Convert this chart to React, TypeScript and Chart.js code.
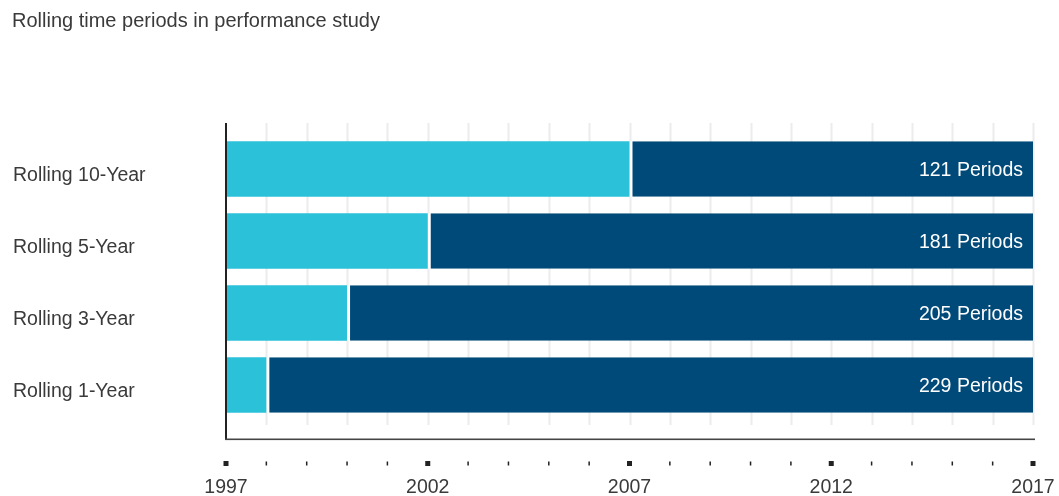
import React, { useEffect, useRef } from "react";
import { Chart, registerables } from "chart.js";

Chart.register(...registerables);

const title = "Rolling time periods in performance study";
const categories = ["Rolling 10-Year", "Rolling 5-Year", "Rolling 3-Year", "Rolling 1-Year"];
const startYear = 1997;
const endYear = 2017;
const firstPeriodEnd = [2007, 2002, 2000, 1998];
const periodCounts = [121, 181, 205, 229];
const majorTickYears = [1997, 2002, 2007, 2012, 2017];

const FONT = '"Liberation Sans", Arial, Helvetica, sans-serif';
const LIGHT = "#2bc1d9";
const DARK = "#004a7a";
const TEXT = "#3a3a3a";

const decorPlugin = {
  id: "decor",
  beforeDatasetsDraw(chart: any) {
    const { ctx, chartArea, scales } = chart;
    const x = scales.x;
    ctx.save();
    ctx.strokeStyle = "#ececec";
    ctx.lineWidth = 2;
    for (let yr = startYear + 1; yr <= endYear; yr++) {
      const px = Math.round(x.getPixelForValue(yr)) + 0.5;
      ctx.beginPath();
      ctx.moveTo(px, chartArea.top - 10);
      ctx.lineTo(px, chartArea.bottom + 4);
      ctx.stroke();
    }
    ctx.restore();
  },
  afterDatasetsDraw(chart: any) {
    const { ctx, chartArea, scales } = chart;
    const x = scales.x;
    ctx.save();
    // title
    ctx.fillStyle = TEXT;
    ctx.font = `20px ${FONT}`;
    ctx.textAlign = "left";
    ctx.textBaseline = "alphabetic";
    ctx.fillText(title, 12, 27);

    // axis lines
    const left = x.getPixelForValue(startYear);
    const right = x.getPixelForValue(endYear);
    ctx.fillStyle = "#222222";
    ctx.fillRect(left - 1, chartArea.top - 10, 2, chartArea.bottom + 19 - (chartArea.top - 10));
    ctx.fillStyle = "#444444";
    ctx.fillRect(left - 1, chartArea.bottom + 17.5, right + 2 - (left - 1), 1.6);

    // tick marks
    ctx.fillStyle = "#222222";
    for (let yr = startYear; yr <= endYear; yr++) {
      const px = x.getPixelForValue(yr);
      if (majorTickYears.includes(yr)) {
        ctx.fillRect(px - 2.5, chartArea.bottom + 40, 5, 5);
      } else {
        ctx.fillRect(px - 0.75, chartArea.bottom + 40.5, 1.5, 4);
      }
    }

    // bar labels
    const meta = chart.getDatasetMeta(1);
    ctx.fillStyle = "#ffffff";
    ctx.font = `19.5px ${FONT}`;
    ctx.textAlign = "right";
    ctx.textBaseline = "middle";
    meta.data.forEach((bar: any, i: number) => {
      ctx.fillText(`${periodCounts[i]} Periods`, bar.x - 10, bar.y + 1.5);
    });
    ctx.restore();
  },
};

export default function App() {
  const ref = useRef<HTMLCanvasElement | null>(null);

  useEffect(() => {
    if (!ref.current) return;
    const chart = new Chart(ref.current, {
      type: "bar",
      data: {
        labels: categories,
        datasets: [
          {
            label: "First period",
            data: firstPeriodEnd.map((e) => [startYear, e]) as any,
            backgroundColor: LIGHT,
            borderWidth: 0,
            grouped: false,
            barPercentage: 0.773,
            categoryPercentage: 1,
          } as any,
          {
            label: "Remaining",
            data: firstPeriodEnd.map((e) => [e, endYear]) as any,
            backgroundColor: DARK,
            borderColor: "#ffffff",
            borderWidth: { left: 3, right: 0, top: 0, bottom: 0 },
            borderSkipped: false,
            grouped: false,
            barPercentage: 0.773,
            categoryPercentage: 1,
          } as any,
        ],
      },
      plugins: [decorPlugin],
      options: {
        indexAxis: "y",
        responsive: false,
        animation: false,
        devicePixelRatio: 1,
        layout: { padding: { left: 13, right: 26, top: 133, bottom: 0 } },
        plugins: {
          legend: { display: false },
          tooltip: { enabled: false },
          title: { display: false },
        },
        scales: {
          x: {
            type: "linear",
            min: startYear,
            max: endYear,
            grid: { display: false, drawTicks: false },
            border: { display: false },
            afterFit: (scale: any) => {
              scale.height = 75;
              scale.paddingLeft = 0;
              scale.paddingRight = 0;
            },
            ticks: {
              stepSize: 1,
              autoSkip: false,
              maxRotation: 0,
              padding: 55,
              color: TEXT,
              font: { family: FONT, size: 19.5 },
              callback: (v: any) => (majorTickYears.includes(Number(v)) ? String(v) : ""),
            },
          },
          y: {
            type: "category",
            grid: { display: false, drawTicks: false },
            border: { display: false },
            afterFit: (scale: any) => {
              scale.width = 213;
              scale.paddingTop = 0;
              scale.paddingBottom = 0;
            },
            ticks: {
              crossAlign: "far",
              labelOffset: 6.5,
              color: TEXT,
              font: { family: FONT, size: 19.5 },
            },
          },
        },
      } as any,
    });
    return () => chart.destroy();
  }, []);

  return (
    <div style={{ position: "absolute", left: 0, top: 0, width: 1059, height: 496 }}>
      <canvas ref={ref} width={1059} height={496} style={{ display: "block" }} />
    </div>
  );
}
